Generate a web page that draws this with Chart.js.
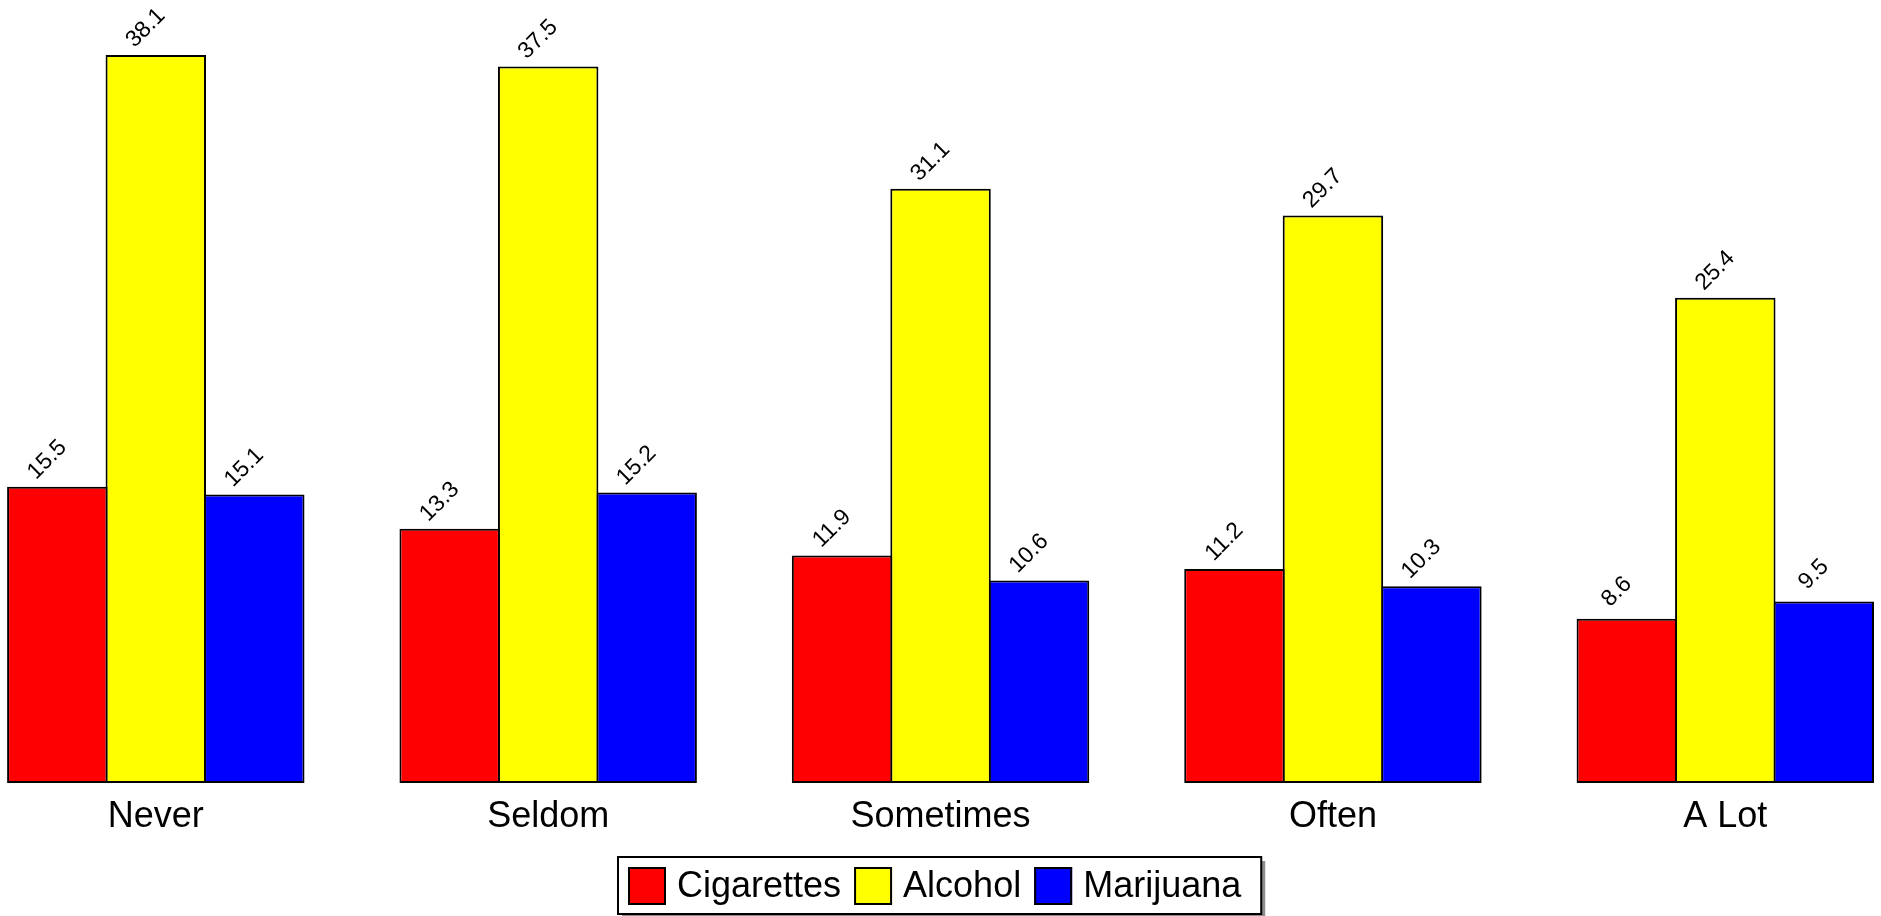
<!DOCTYPE html>
<html>
<head>
<meta charset="utf-8">
<script src="https://cdn.jsdelivr.net/npm/chart.js@4.4.1/dist/chart.umd.min.js"></script>
<style>
  html, body { margin: 0; padding: 0; background: #ffffff; }
  #wrap { width: 1881px; height: 916px; position: relative; }
</style>
</head>
<body>
<div id="wrap"><canvas id="c" width="1881" height="916"></canvas></div>
<script>
const categories = ["Never", "Seldom", "Sometimes", "Often", "A Lot"];
const seriesNames = ["Cigarettes", "Alcohol", "Marijuana"];
const cigarettes = [15.5, 13.3, 11.9, 11.2, 8.6];
const alcohol = [38.1, 37.5, 31.1, 29.7, 25.4];
const marijuana = [15.1, 15.2, 10.6, 10.3, 9.5];
const seriesColors = ["#ff0000", "#ffff00", "#0000ff"];

const FONT = "'Liberation Sans', Arial, Helvetica, sans-serif";

const valueLabels = {
  id: 'valueLabels',
  afterDatasetsDraw(chart) {
    const ctx = chart.ctx;
    ctx.save();
    ctx.fillStyle = '#000';
    ctx.font = '23px ' + FONT;
    ctx.textAlign = 'center';
    ctx.textBaseline = 'middle';
    chart.data.datasets.forEach((ds, di) => {
      const meta = chart.getDatasetMeta(di);
      meta.data.forEach((bar, i) => {
        ctx.save();
        ctx.translate(bar.x - 10, bar.y - 27);
        ctx.rotate(-Math.PI / 4);
        ctx.fillText(ds.data[i].toFixed(1), 0, 0);
        ctx.restore();
      });
    });
    ctx.restore();
  }
};

// Custom framed legend drawn from the chart's own dataset list
const framedLegend = {
  id: 'framedLegend',
  afterDraw(chart) {
    const ctx = chart.ctx;
    const datasets = chart.data.datasets;
    const box = 38, gapBoxText = 11, gapItems = 13, padL = 10, padR = 20;
    const fontSize = 36;
    ctx.save();
    ctx.font = fontSize + 'px ' + FONT;
    const widths = datasets.map(d => ctx.measureText(d.label).width);
    let inner = 0;
    widths.forEach((w, k) => { inner += box + gapBoxText + w + (k < widths.length - 1 ? gapItems : 0); });
    const total = padL + inner + padR;
    const cx = 940;
    const x0 = Math.round(cx - total / 2), y0 = 857, h = 57;
    ctx.fillStyle = '#8c8c8c';
    ctx.fillRect(x0 + 4, y0 + 4, total, h);
    ctx.fillStyle = '#ffffff';
    ctx.fillRect(x0, y0, total, h);
    ctx.strokeStyle = '#000';
    ctx.lineWidth = 2;
    ctx.strokeRect(x0, y0, total, h);
    let x = x0 + padL;
    const by = y0 + 10;
    datasets.forEach((d, k) => {
      ctx.fillStyle = d.backgroundColor;
      ctx.fillRect(x, by, box, box);
      ctx.strokeStyle = '#000';
      ctx.lineWidth = 2;
      ctx.strokeRect(x + 1, by + 1, box - 2, box - 2);
      x += box + gapBoxText;
      ctx.fillStyle = '#000';
      ctx.textAlign = 'left';
      ctx.textBaseline = 'middle';
      ctx.fillText(d.label, x, by + box / 2 + 1);
      x += widths[k] + gapItems;
    });
    ctx.restore();
  }
};

const seriesData = [cigarettes, alcohol, marijuana];

new Chart(document.getElementById('c'), {
  type: 'bar',
  data: {
    labels: categories,
    datasets: seriesNames.map((name, k) => ({
      label: name,
      data: seriesData[k],
      backgroundColor: seriesColors[k],
      borderColor: '#000000',
      borderWidth: 2,
      borderSkipped: false,
      inflateAmount: 0,
      barPercentage: 1.02,
      categoryPercentage: 0.753,
      clip: false
    }))
  },
  options: {
    responsive: false,
    animation: false,
    devicePixelRatio: 1,
    layout: { padding: { left: 155.8, right: 155.7, top: 18.7, bottom: 55 } },
    scales: {
      x: {
        offset: false,
        grid: { display: false, offset: false },
        border: { display: false },
        ticks: { color: '#000', font: { family: FONT, size: 36 }, padding: 4, maxRotation: 0, autoSkip: false },
        afterFit(scale) { scale.height = 78; }
      },
      y: {
        display: false,
        min: 0,
        max: 40
      }
    },
    plugins: {
      legend: { display: false },
      tooltip: { enabled: false }
    }
  },
  plugins: [valueLabels, framedLegend]
});
</script>
</body>
</html>
